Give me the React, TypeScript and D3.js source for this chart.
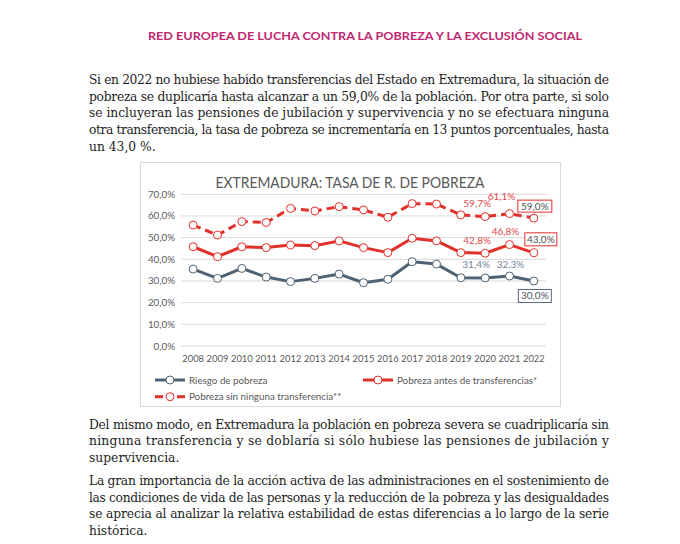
import React from "react";
import * as d3 from "d3";

const years = ["2008","2009","2010","2011","2012","2013","2014","2015","2016","2017","2018","2019","2020","2021","2022"];
const riesgo = [35.5,31.2,35.8,31.8,29.7,31.2,33.2,29.2,30.8,38.9,37.8,31.5,31.4,32.3,30.0];
const antes = [45.8,41.2,45.8,45.4,46.6,46.3,48.5,45.4,43.1,49.7,48.5,43.1,42.8,46.8,43.0];
const sinNinguna = [55.8,51.2,57.4,57.0,63.5,62.3,64.3,62.8,59.4,65.7,65.5,60.5,59.7,61.1,59.0];
const yTicks = [0,10,20,30,40,50,60,70];
const labelYears = ["2020","2021"];
const boxedYear = "2022";
const seriesNames = ["Riesgo de pobreza","Pobreza antes de transferencias*","Pobreza sin ninguna transferencia**"];

const headerText = "RED EUROPEA DE LUCHA CONTRA LA POBREZA Y LA EXCLUSIÓN SOCIAL";
const chartTitle = "EXTREMADURA: TASA DE R. DE POBREZA";
const para1 = [
  "Si en 2022 no hubiese habido transferencias del Estado en Extremadura, la situación de",
  "pobreza se duplicaría hasta alcanzar a un 59,0% de la población. Por otra parte, si solo",
  "se incluyeran las pensiones de jubilación y supervivencia y no se efectuara ninguna",
  "otra transferencia, la tasa de pobreza se incrementaría en 13 puntos porcentuales, hasta",
  "un 43,0 %.",
];
const para2 = [
  "Del mismo modo, en Extremadura la población en pobreza severa se cuadriplicaría sin",
  "ninguna transferencia y se doblaría si sólo hubiese las pensiones de jubilación y",
  "supervivencia.",
];
const para3 = [
  "La gran importancia de la acción activa de las administraciones en el sostenimiento de",
  "las condiciones de vida de las personas y la reducción de la pobreza y las desigualdades",
  "se aprecia al analizar la relativa estabilidad de estas diferencias a lo largo de la serie",
  "histórica.",
];

const BLUE = "#4f6273";
const BLUE_LABEL = "#71859a";
const RED = "#e2302a";
const RED_LABEL = "#e04a4a";
const GRAY = "#595959";
const SERIF = "'DejaVu Serif', serif";
const SANS = "Lato, 'Liberation Sans', sans-serif";

const fmt = (v: number) => v.toFixed(1).replace(".", ",") + "%";

function Paragraph({ lines, y0, lh }: { lines: string[]; y0: number; lh: number }) {
  return (
    <g fontFamily={SERIF} fontSize={12.3} fill="#1e1e1e">
      {lines.map((l, i) => (
        <text
          key={i}
          x={89}
          y={y0 + i * lh}
          textLength={i < lines.length - 1 ? 520 : undefined}
          lengthAdjust="spacing"
        >
          {l}
        </text>
      ))}
    </g>
  );
}

export default function App() {
  const x = d3.scaleBand<string>().domain(years).range([181, 546]).padding(0);
  const cx = (yr: string) => (x(yr) as number) + x.bandwidth() / 2;
  const y = d3.scaleLinear().domain([0, 70]).range([346, 194.3]);

  const line = d3
    .line<number>()
    .x((_, i) => cx(years[i]))
    .y((d) => y(d));

  const series = [
    { name: seriesNames[0], values: riesgo, color: BLUE, dash: undefined as string | undefined, labelColor: BLUE_LABEL },
    { name: seriesNames[1], values: antes, color: RED, dash: undefined, labelColor: RED_LABEL },
    { name: seriesNames[2], values: sinNinguna, color: RED, dash: "8,5", labelColor: RED_LABEL },
  ];

  const labelOffsets: Record<string, { dx: number; dy: number }[]> = {
    "2020": [{ dx: -9, dy: -9.5 }, { dx: -8, dy: -9 }, { dx: -8, dy: -10 }],
    "2021": [{ dx: 1, dy: -8 }, { dx: -4, dy: -10 }, { dx: -8, dy: -14 }],
  };
  const boxOffsets = [
    { dx: 1, dy: 15, w: 33, h: 13 },
    { dx: 7, dy: -13.5, w: 32, h: 13 },
    { dx: 1, dy: -12, w: 34, h: 12 },
  ];

  const boxedIdx = years.indexOf(boxedYear);

  return (
    <svg width={680} height={544} style={{ position: "absolute", left: 0, top: 0 }}>
      <rect x={0} y={0} width={680} height={544} fill="#fff" />
      <text
        x={148}
        y={40}
        fontFamily={SANS}
        fontWeight={700}
        fontSize={12}
        fill="#c1276f"
        textLength={434}
        lengthAdjust="spacingAndGlyphs"
      >
        {headerText}
      </text>

      <Paragraph lines={para1} y0={84} lh={16.7} />
      <Paragraph lines={para2} y0={428.5} lh={16.7} />
      <Paragraph lines={para3} y0={485} lh={16.7} />

      {/* chart frame */}
      <rect x={140.5} y={162.5} width={420} height={244} fill="#fff" stroke="#d9d9d9" />
      <text
        x={350}
        y={188}
        textAnchor="middle"
        fontFamily={SANS}
        fontSize={14.5}
        fill={GRAY}
        textLength={269}
        lengthAdjust="spacingAndGlyphs"
      >
        {chartTitle}
      </text>

      {/* grid + y axis */}
      {yTicks.map((t) => (
        <g key={t}>
          <line x1={181} x2={546} y1={y(t)} y2={y(t)} stroke="#d9d9d9" strokeWidth={1} />
          <text x={175} y={y(t) + 3.5} textAnchor="end" fontFamily={SANS} fontSize={9.8} fill={GRAY}>
            {fmt(t)}
          </text>
        </g>
      ))}

      {/* x axis labels */}
      {years.map((yr) => (
        <text key={yr} x={cx(yr)} y={362} textAnchor="middle" fontFamily={SANS} fontSize={9.4} fill={GRAY}>
          {yr}
        </text>
      ))}

      {/* series */}
      {series.map((s, si) => (
        <g key={s.name}>
          <path d={line(s.values) as string} fill="none" stroke={s.color} strokeWidth={3} strokeDasharray={s.dash} strokeLinejoin="round" />
          {s.values.map((v, i) => (
            <circle key={i} cx={cx(years[i])} cy={y(v)} r={4} fill="#fff" stroke={s.color} strokeWidth={1} />
          ))}
          {labelYears.map((ly) => {
            const i = years.indexOf(ly);
            const o = labelOffsets[ly][si];
            return (
              <text
                key={ly}
                x={cx(ly) + o.dx}
                y={y(s.values[i]) + o.dy}
                textAnchor="middle"
                fontFamily={SANS}
                fontSize={10}
                fill={s.labelColor}
              >
                {fmt(s.values[i])}
              </text>
            );
          })}
          {(() => {
            const b = boxOffsets[si];
            const bx = cx(boxedYear) + b.dx;
            const by = y(s.values[boxedIdx]) + b.dy;
            return (
              <g>
                <rect x={bx - b.w / 2} y={by - b.h / 2} width={b.w} height={b.h} fill="#fff" stroke={si === 0 ? "#5b6878" : RED} strokeWidth={1} />
                <text x={bx} y={by + 3.5} textAnchor="middle" fontFamily={SANS} fontSize={10} fill={si === 0 ? "#4a5560" : "#505050"}>
                  {fmt(s.values[boxedIdx])}
                </text>
              </g>
            );
          })()}
        </g>
      ))}

      {/* legend */}
      {[
        { s: series[0], x0: 155, ly: 380 },
        { s: series[1], x0: 363, ly: 380 },
        { s: series[2], x0: 155, ly: 396.7 },
      ].map(({ s, x0, ly }) => (
        <g key={s.name}>
          {s.dash ? (
            <>
              <line x1={x0} x2={x0 + 8} y1={ly} y2={ly} stroke={s.color} strokeWidth={3} />
              <line x1={x0 + 22} x2={x0 + 30} y1={ly} y2={ly} stroke={s.color} strokeWidth={3} />
            </>
          ) : (
            <line x1={x0} x2={x0 + 30} y1={ly} y2={ly} stroke={s.color} strokeWidth={3} />
          )}
          <circle cx={x0 + 15} cy={ly} r={4} fill="#fff" stroke={s.color} strokeWidth={1} />
          <text x={x0 + 34} y={ly + 3.5} fontFamily={SANS} fontSize={9.8} fill={GRAY}>
            {s.name}
          </text>
        </g>
      ))}
    </svg>
  );
}
